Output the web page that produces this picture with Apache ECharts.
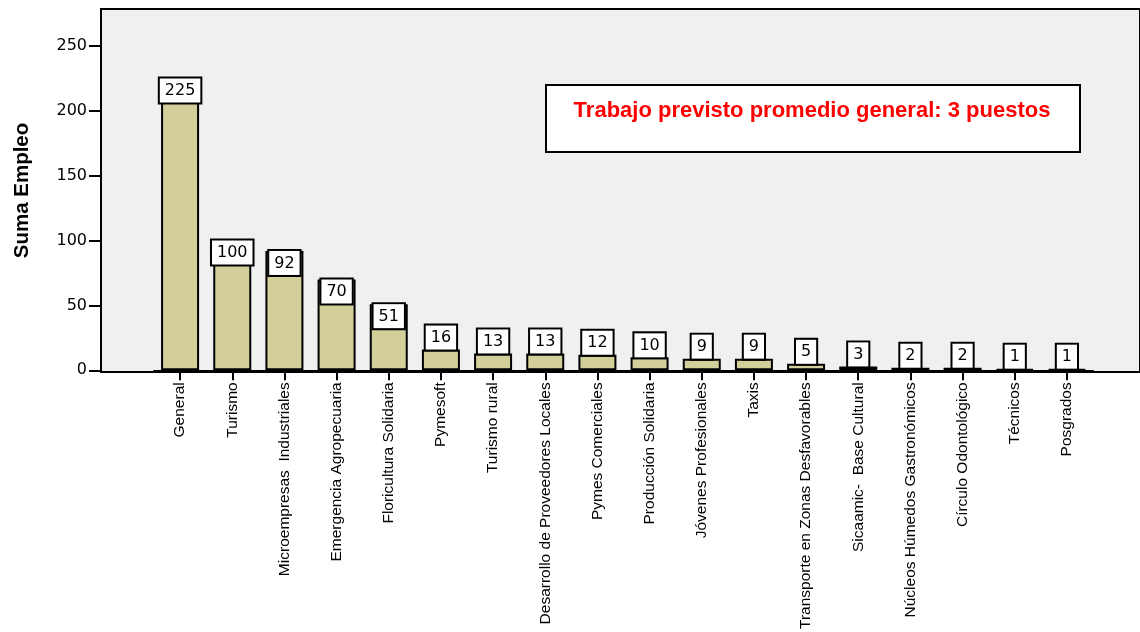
<!DOCTYPE html>
<html>
<head>
<meta charset="utf-8">
<script src="https://cdn.jsdelivr.net/npm/echarts@6/dist/echarts.min.js"></script>
<style>html,body{margin:0;padding:0;background:#fff;}#c{width:1140px;height:632px;}</style>
</head>
<body>
<div id="c"></div>
<script>
const categories = ["General","Turismo","Microempresas  Industriales","Emergencia Agropecuaria","Floricultura Solidaria","Pymesoft","Turismo rural","Desarrollo de Proveedores Locales","Pymes Comerciales","Producción Solidaria","Jóvenes Profesionales","Taxis","Transporte en Zonas Desfavorables","Sicaamic-  Base Cultural","Núcleos Húmedos Gastronómicos","Círculo Odontológico","Técnicos","Posgrados"];
const values = [225,100,92,70,51,16,13,13,12,10,9,9,5,3,2,2,1,1];
const yTicks = [0,50,100,150,200,250];
const yTitle = "Suma Empleo";
const note = "Trabajo previsto promedio general: 3 puestos";

const chart = echarts.init(document.getElementById('c'), null, {renderer:'canvas'});
const barData = values.map(v => ({
  value: v,
  label: { position: v > 20 ? 'insideTop' : 'top', distance: 0 }
}));
chart.setOption({
  animation: false,
  backgroundColor: '#ffffff',
  grid: [
    { left: 101, top: 9, width: 1060, height: 363, show: true, backgroundColor: '#f0f0f0', borderColor: '#000', borderWidth: 2, containLabel: false },
    { left: 154, right: 47, top: 46, bottom: 260, containLabel: false }
  ],
  xAxis: [
    { gridIndex: 0, type: 'value', show: false },
    { gridIndex: 1, type: 'category', data: categories, boundaryGap: true,
      axisLine: { show: true, lineStyle: { color: '#000', width: 2 } },
      axisTick: { show: true, alignWithLabel: true, length: 10, lineStyle: { color: '#000', width: 2 } },
      axisLabel: { interval: 0, rotate: 90, fontFamily: 'Liberation Sans', fontSize: 15.5, color: '#000', margin: 12 },
      splitLine: { show: false } }
  ],
  yAxis: [
    { gridIndex: 0, type: 'value', show: true, min: 0, max: 1,
      name: yTitle, nameLocation: 'middle', nameGap: 68,
      nameTextStyle: { fontFamily: 'Liberation Sans', fontWeight: 'bold', fontSize: 20.5, color: '#000' },
      axisLine: { show: false }, axisTick: { show: false }, axisLabel: { show: false }, splitLine: { show: false } },
    { gridIndex: 1, type: 'value', min: yTicks[0], max: yTicks[yTicks.length-1], interval: 50, offset: 53,
      axisLine: { show: true, lineStyle: { color: '#000', width: 2 } },
      axisTick: { show: true, length: 12, lineStyle: { color: '#000', width: 2 } },
      axisLabel: { fontFamily: 'DejaVu Sans', fontSize: 16, color: '#000', margin: 14 },
      splitLine: { show: false } }
  ],
  series: [{
    type: 'bar', xAxisIndex: 1, yAxisIndex: 1, data: barData, barWidth: 38,
    itemStyle: { color: '#d3cf9a', borderColor: '#000', borderWidth: 2 },
    label: { show: true, fontFamily: 'DejaVu Sans', fontSize: 16, color: '#000', lineHeight: 17,
      backgroundColor: '#fff', borderColor: '#000', borderWidth: 2, padding: [4,5,3,5] }
  }],
  graphic: [
    { type: 'rect', left: 545, top: 84, shape: { width: 534, height: 67 }, style: { fill: '#fff', stroke: '#000', lineWidth: 2 }, z: 10 },
    { type: 'text', x: 812, y: 111, style: { text: note, fill: '#ff0000', font: 'bold 22px "Liberation Sans"', textAlign: 'center', textVerticalAlign: 'middle' }, z: 11 }
  ]
});
</script>
</body>
</html>
